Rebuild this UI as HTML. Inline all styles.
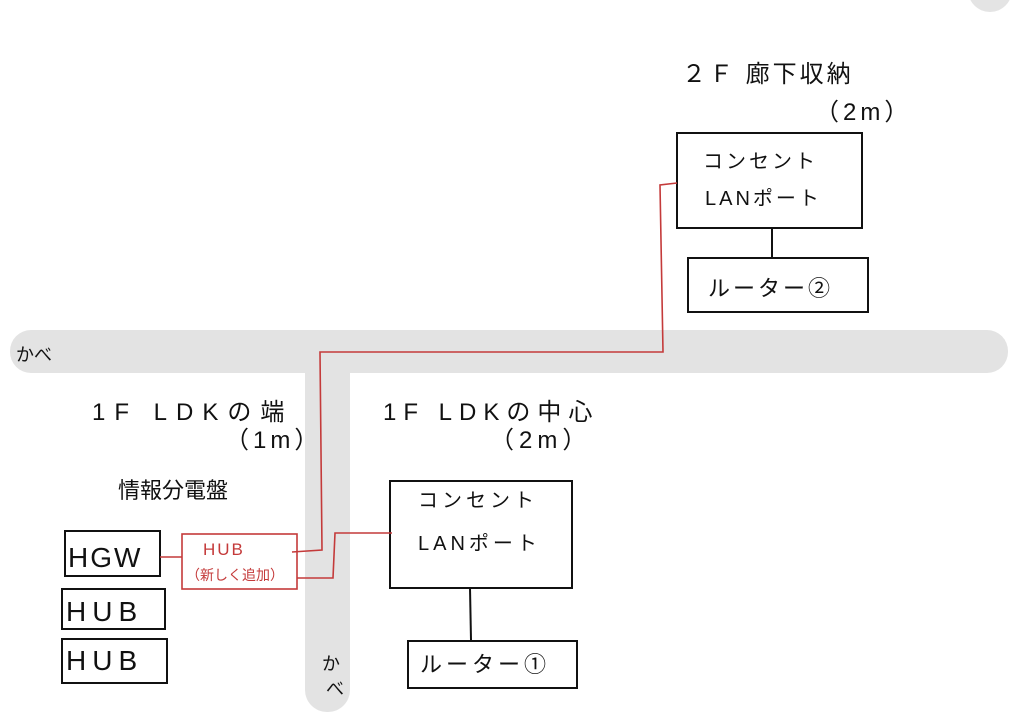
<!DOCTYPE html>
<html><head><meta charset="utf-8"><style>
html,body{margin:0;padding:0;background:#fff;width:1024px;height:728px;overflow:hidden}
svg text{font-family:"Liberation Sans","Noto Sans CJK JP",sans-serif;fill:#111}
</style></head><body>
<svg width="1024" height="728" viewBox="0 0 1024 728">
<circle cx="990" cy="-10" r="22" fill="#e4e4e4"/>
<rect x="10" y="330" width="998" height="43" rx="21" fill="#e3e3e3"/>
<rect x="305" y="350" width="45" height="362" rx="22" fill="#e3e3e3"/>
<g fill="none" stroke="#111" stroke-width="2">
<rect x="677" y="133" width="185" height="95"/>
<line x1="772" y1="228" x2="772" y2="258"/>
<rect x="688" y="258" width="180" height="54"/>
<rect x="390" y="481" width="182" height="107"/>
<line x1="470" y1="588" x2="471" y2="640"/>
<rect x="408" y="641" width="169" height="47"/>
<rect x="65" y="531" width="95" height="45"/>
<rect x="62" y="589" width="103" height="40"/>
<rect x="62" y="639" width="105" height="44"/>
</g>
<g fill="none" stroke="#c43a3a" stroke-width="1.6">
<rect x="182" y="534" width="115" height="55"/>
<line x1="160" y1="557" x2="182" y2="557"/>
<polyline points="677,183 660,185 663,352 320,352 322,550 292,552"/>
<polyline points="297,578 333,578 335,533 392,533"/>
</g>
<g font-size="24">
<text x="682" y="82" letter-spacing="3">２Ｆ 廊下収納</text>
<text x="815" y="120" letter-spacing="4">（2m）</text>
<text x="703" y="168" font-size="20" letter-spacing="3">コンセント</text>
<text x="705" y="205" font-size="20" letter-spacing="3">LANポート</text>
<text x="708" y="296" font-size="22" letter-spacing="3">ルーター②</text>
<text x="92" y="420" letter-spacing="9">1F LDKの端</text>
<text x="225" y="448" letter-spacing="4">（1m）</text>
<text x="118" y="498" font-size="22">情報分電盤</text>
<text x="383" y="420" letter-spacing="7">1F LDKの中心</text>
<text x="490" y="448" letter-spacing="5">（2m）</text>
<text x="418" y="507" font-size="20" letter-spacing="4">コンセント</text>
<text x="418" y="550" font-size="20" letter-spacing="4">LANポート</text>
<text x="420" y="672" font-size="22" letter-spacing="4">ルーター①</text>
<text x="68" y="567" font-size="28" letter-spacing="2">HGW</text>
<text x="66" y="621" font-size="28" letter-spacing="6">HUB</text>
<text x="66" y="670" font-size="28" letter-spacing="6">HUB</text>
<text x="16" y="361" font-size="18">かべ</text>
<text x="322" y="670" font-size="18">か</text>
<text x="326" y="695" font-size="18">べ</text>
</g>
<text x="203" y="555" font-size="17" style="fill:#c43a3a" letter-spacing="2">HUB</text>
<text x="186" y="580" font-size="14" style="fill:#c43a3a">（新しく追加）</text>
</svg>
</body></html>
